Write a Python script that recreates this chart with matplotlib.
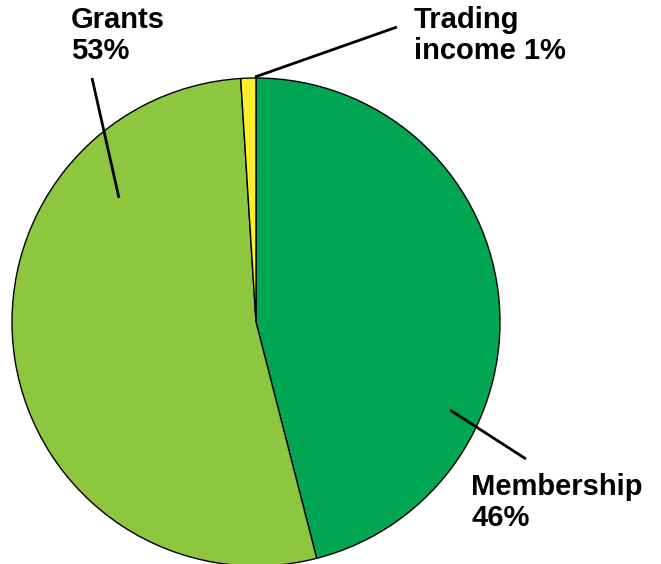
import matplotlib
matplotlib.use("Agg")
import matplotlib.pyplot as plt

categories = ["Membership", "Grants", "Trading income"]
values = [46, 53, 1]
labels = ["Membership\n46%", "Grants\n53%", "Trading\nincome 1%"]
colors = ["#00A651", "#8DC63F", "#FFEC2A"]

W, H = 661, 564
fig = plt.figure(figsize=(W / 100, H / 100), dpi=100)
ax = fig.add_axes([0, 0, 1, 1])

cx, cy, r = 256, H - 322, 244
ax.pie(values, colors=colors, startangle=90, counterclock=False,
       center=(cx, cy), radius=r, frame=True,
       wedgeprops=dict(edgecolor="black", linewidth=1.0))
ax.set_xlim(0, W)
ax.set_ylim(0, H)
ax.axis("off")

# leader lines (pixel coords from top-left)
leaders = [((450, 410), (526, 459)), ((119, 198), (92, 78)), ((255, 77), (397, 27))]
for (x0, y0), (x1, y1) in leaders:
    ax.plot([x0, x1], [H - y0, H - y1], color="black", lw=2.0, solid_capstyle="butt")

text_pos = [(471, 473), (71, 6), (414, 6)]
for lab, (tx, ty) in zip(labels, text_pos):
    ax.text(tx, H - ty, lab, ha="left", va="top", fontsize=21, fontweight="bold",
            family="Liberation Sans", linespacing=1.15, color="black")

fig.savefig("out.png", dpi=100)
